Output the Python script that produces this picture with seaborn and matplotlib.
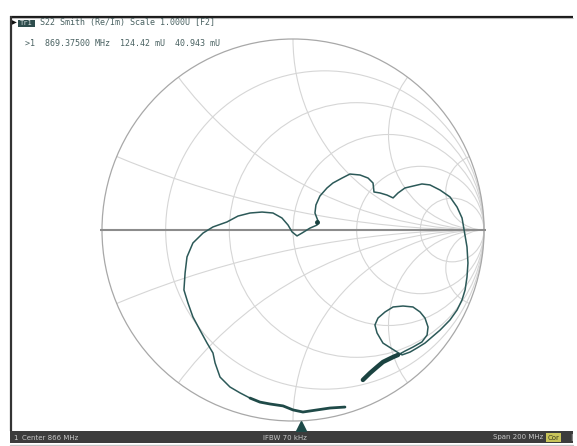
import numpy as np
import pandas as pd
import matplotlib
matplotlib.use("Agg")
import matplotlib.pyplot as plt
import seaborn as sns
from matplotlib.patches import Circle, Rectangle

W, H = 577, 446

bottom_re = [0.272, 0.194, 0.126, 0.052, 0.000, -0.052, -0.120, -0.173, -0.225]
bottom_im = [-0.927, -0.932, -0.942, -0.953, -0.942, -0.921, -0.911, -0.901, -0.880]

main_re = [-0.225, -0.277, -0.330, -0.382, -0.408, -0.419, -0.450, -0.487, -0.524,
           -0.550, -0.571, -0.565, -0.555, -0.524, -0.471, -0.419, -0.346, -0.288,
           -0.225, -0.162, -0.105, -0.058, -0.026, -0.005, 0.021, 0.047, 0.089,
           0.126, 0.131, 0.115, 0.120, 0.141, 0.178, 0.209, 0.257, 0.298, 0.351,
           0.393, 0.419, 0.424, 0.455, 0.492, 0.524, 0.550, 0.586, 0.628, 0.675,
           0.717, 0.770, 0.822, 0.859, 0.885, 0.895, 0.911, 0.916, 0.911, 0.901,
           0.885, 0.859, 0.822, 0.770, 0.728, 0.691, 0.649, 0.613, 0.571,
           0.545, 0.471, 0.440, 0.429, 0.445, 0.482, 0.524, 0.576, 0.628, 0.665,
           0.691, 0.707, 0.702, 0.675, 0.628, 0.586, 0.550]
main_im = [-0.880, -0.853, -0.822, -0.770, -0.696, -0.644, -0.592, -0.524, -0.455,
           -0.382, -0.314, -0.225, -0.141, -0.068, -0.016, 0.016, 0.042, 0.073,
           0.089, 0.094, 0.089, 0.063, 0.026, -0.010, -0.031, -0.016, 0.010,
           0.026, 0.047, 0.089, 0.131, 0.178, 0.220, 0.246, 0.272, 0.293, 0.288,
           0.272, 0.246, 0.199, 0.194, 0.183, 0.168, 0.194, 0.220, 0.230, 0.241,
           0.236, 0.209, 0.173, 0.120, 0.063, 0.005, -0.089, -0.173, -0.246, -0.314,
           -0.366, -0.419, -0.471, -0.524, -0.560, -0.592, -0.618, -0.639, -0.654,
           -0.639, -0.592, -0.539, -0.497, -0.461, -0.429, -0.403, -0.398, -0.403, -0.429,
           -0.461, -0.508, -0.550, -0.586, -0.613, -0.634, -0.654]

tail_re = [0.550, 0.524, 0.471, 0.440, 0.403, 0.366]
tail_im = [-0.654, -0.665, -0.691, -0.717, -0.749, -0.785]

# marker 1 readout
mk_freq = 869.375
mk_re, mk_im = 0.12442, 0.040943

# sweep settings
center_mhz = 866
span_mhz = 200

# Smith grid values
r_circles = [0.2, 0.5, 1, 2, 5]
x_arcs = [0.2, 0.5, 1, 2, 5]

sns.set_style("white")
plt.rcParams["font.family"] = ["DejaVu Sans"]

fig = plt.figure(figsize=(W / 100, H / 100), dpi=100)
fig.patch.set_facecolor("white")

# screen chrome, pixel coordinates
scr = fig.add_axes([0, 0, 1, 1], zorder=0)
scr.set_xlim(0, W)
scr.set_ylim(H, 0)
scr.axis("off")

scr.plot([10, 573], [16.5, 16.5], color="#1a1a1a", lw=1.6, solid_capstyle="butt")
scr.plot([10, 573], [18.3, 18.3], color="#b8b8b8", lw=0.8, solid_capstyle="butt")
scr.plot([10.5, 10.5], [16, 431], color="#333333", lw=1.6, solid_capstyle="butt")
scr.add_patch(Rectangle((10, 431), 563, 12, facecolor="#3c3c3c", edgecolor="none"))
scr.plot([10, 573], [444.5, 444.5], color="#c4c4c4", lw=1.0)

mono = "DejaVu Sans Mono"
scr.text(11.5, 23, "\u25b6", fontsize=4.5, color="#111111", va="center", ha="left")
scr.add_patch(Rectangle((18, 19.5), 17, 7.5, facecolor="#2e4d4d", edgecolor="none"))
scr.text(26.5, 23.3, "Tr1", fontsize=5, family=mono, color="#d8e0e0", va="center", ha="center")
scr.text(40, 23, "S22 Smith (Re/Im) Scale 1.000U [F2]", fontsize=6, family=mono,
         color="#4a6262", va="center", ha="left")
scr.text(25, 43.5, f">1  {mk_freq:.5f} MHz  {mk_re * 1000:.2f} mU  {mk_im * 1000:.3f} mU",
         fontsize=6, family=mono, color="#4a6262", va="center", ha="left")

bar_y = 437.5
scr.text(13, bar_y, "1", fontsize=5, color="#d0d0d0", va="center", ha="left")
scr.text(22, bar_y, f"Center {center_mhz} MHz", fontsize=5, color="#c8c8c8", va="center", ha="left")
scr.text(285, bar_y, "IFBW 70 kHz", fontsize=5, color="#c8c8c8", va="center", ha="center")
scr.text(543, bar_y, f"Span {span_mhz} MHz", fontsize=5, color="#c8c8c8", va="center", ha="right")
scr.add_patch(Rectangle((546, 432.5), 15, 9.5, facecolor="#c8c45a", edgecolor="none"))
scr.text(553.5, bar_y, "Cor", fontsize=5, color="#3a3a20", va="center", ha="center")
scr.text(571, bar_y, "|", fontsize=5, color="#d0d0d0", va="center", ha="center")

# Smith chart axes: centre at pixel (293, 230), unit radius 191 px
cx, cy, rad = 293.0, 230.0, 191.0
ax = fig.add_axes([0, 0, 1, 1], zorder=1)
ax.patch.set_alpha(0)
ax.set_xlim(-cx / rad, (W - cx) / rad)
ax.set_ylim(-(H - cy) / rad, cy / rad)
ax.axis("off")

grid_c = "#d6d6d6"
outer = Circle((0, 0), 1, facecolor="none", edgecolor="#a8a8a8", lw=0.9, zorder=2)
ax.add_patch(outer)
for r in r_circles:
    c = Circle((r / (1 + r), 0), 1 / (1 + r), facecolor="none", edgecolor=grid_c, lw=0.8, zorder=1)
    ax.add_patch(c)
for xv in x_arcs:
    for s in (1, -1):
        c = Circle((1, s / xv), 1 / xv, facecolor="none", edgecolor=grid_c, lw=0.8, zorder=1)
        ax.add_patch(c)
        c.set_clip_path(outer)
ax.plot([-1.01, 1.01], [0, 0], color="#8c8c8c", lw=1.5, zorder=2, solid_capstyle="butt")

trace_c = "#2c5958"
df_main = pd.DataFrame({"re": main_re, "im": main_im})
df_bot = pd.DataFrame({"re": bottom_re, "im": bottom_im})
df_tail = pd.DataFrame({"re": tail_re, "im": tail_im})
sns.lineplot(data=df_main, x="re", y="im", sort=False, estimator=None, ax=ax,
             color=trace_c, lw=1.1, zorder=3)
sns.lineplot(data=df_bot, x="re", y="im", sort=False, estimator=None, ax=ax,
             color="#1f4a48", lw=2.0, zorder=3)
sns.lineplot(data=df_tail, x="re", y="im", sort=False, estimator=None, ax=ax,
             color="#1b4341", lw=3.2, zorder=3)
ax.plot([mk_re], [mk_im], "o", ms=2.5, color="#1b4341", zorder=4)
ax.set_xlim(-cx / rad, (W - cx) / rad)
ax.set_ylim(-(H - cy) / rad, cy / rad)
ax.axis("off")

# marker position along the sweep
fx = fig.add_axes([10 / W, (H - 431) / H, 563 / W, 12 / H], zorder=2)
fx.patch.set_alpha(0)
fx.set_xlim(center_mhz - span_mhz / 2, center_mhz + span_mhz / 2)
fx.set_ylim(0, 1)
fx.axis("off")
fx.plot([mk_freq], [0.45], marker="^", ms=6.5, color="#1d4a48", ls="none")

fig.savefig("out.png", dpi=100, facecolor="white")
